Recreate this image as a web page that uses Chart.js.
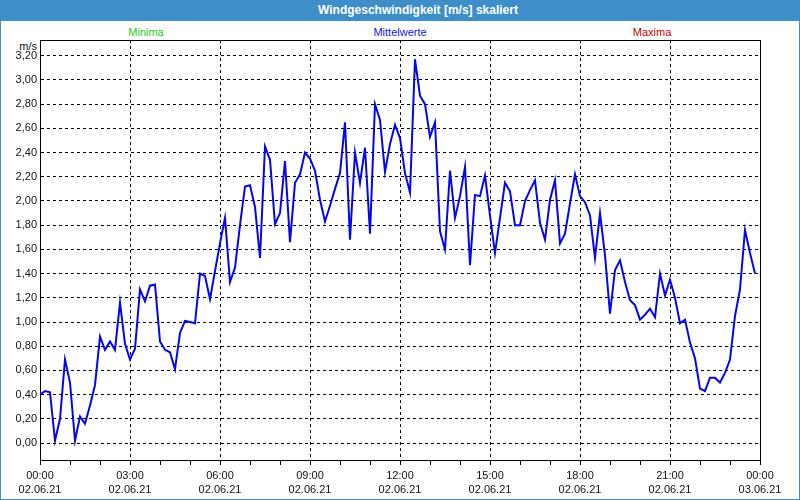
<!DOCTYPE html>
<html><head><meta charset="utf-8">
<script src="https://cdn.jsdelivr.net/npm/chart.js@4"></script>
<style>
html,body{margin:0;padding:0;background:#fff;}
#frame{position:relative;width:800px;height:500px;box-sizing:border-box;border:1px solid #3d8ec9;font-family:"Liberation Sans",Arial,sans-serif;overflow:hidden;background:#fff;}
#title{position:absolute;left:0;top:0;width:798px;height:20px;background:#3d8ec9;}
#title span{position:absolute;left:317px;top:2px;line-height:15px;color:#fff;font-weight:bold;font-size:12px;white-space:nowrap;}
.leg{position:absolute;top:25px;line-height:13px;font-size:11px;transform:translateX(-50%);white-space:nowrap;}
#unit{position:absolute;left:0;top:39px;width:36px;text-align:right;line-height:13px;font-size:11px;color:#111;}
#wrap{position:absolute;left:0;top:20px;width:798px;height:477px;}
</style></head>
<body>
<div id="frame">
  <div id="title"><span>Windgeschwindigkeit [m/s] skaliert</span></div>
  <div class="leg" style="left:145px;color:#22cc22;">Minima</div>
  <div class="leg" style="left:399px;color:#1515e0;">Mittelwerte</div>
  <div class="leg" style="left:651px;color:#c00000;">Maxima</div>
  <div id="unit">m/s</div>
  <div id="wrap"><canvas id="c" width="798" height="477"></canvas></div>
</div>
<script>
// 10-minute mean wind speed values, 02.06.21 00:00 .. 23:50
const stepHours = 1 / 6;
const values = [
  0.40, 0.43, 0.42, 0.02, 0.20, 0.69, 0.50, 0.02, 0.22, 0.16,
  0.31, 0.48, 0.88, 0.77, 0.84, 0.77, 1.16, 0.82, 0.69, 0.78,
  1.27, 1.17, 1.30, 1.31, 0.84, 0.77, 0.75, 0.61, 0.91, 1.01,
  1.00, 0.99, 1.40, 1.38, 1.19, 1.42, 1.65, 1.86, 1.33, 1.45,
  1.80, 2.12, 2.13, 1.95, 1.53, 2.45, 2.34, 1.81, 1.90, 2.33,
  1.66, 2.15, 2.22, 2.40, 2.35, 2.25, 2.01, 1.83, 1.96, 2.10,
  2.23, 2.65, 1.68, 2.40, 2.15, 2.44, 1.73, 2.80, 2.67, 2.24,
  2.47, 2.63, 2.52, 2.23, 2.07, 3.17, 2.87, 2.80, 2.53, 2.65,
  1.75, 1.60, 2.25, 1.86, 2.04, 2.28, 1.47, 2.05, 2.04, 2.21,
  1.88, 1.57, 1.86, 2.15, 2.08, 1.80, 1.80, 2.00, 2.09, 2.17,
  1.82, 1.68, 2.01, 2.17, 1.65, 1.73, 1.98, 2.22, 2.04, 1.99,
  1.88, 1.53, 1.90, 1.55, 1.07, 1.43, 1.51, 1.33, 1.18, 1.14,
  1.02, 1.06, 1.11, 1.04, 1.40, 1.22, 1.35, 1.20, 0.99, 1.02,
  0.83, 0.70, 0.45, 0.43, 0.54, 0.54, 0.50, 0.58, 0.69, 1.05,
  1.27, 1.76, 1.57, 1.40
];
const yTickValues = [0, 0.2, 0.4, 0.6, 0.8, 1.0, 1.2, 1.4, 1.6, 1.8, 2.0, 2.2, 2.4, 2.6, 2.8, 3.0, 3.2];
const hourTicks = [0,1,2,3,4,5,6,7,8,9,10,11,12,13,14,15,16,17,18,19,20,21,22,23,24];
const xLabelHours = [0, 3, 6, 9, 12, 15, 18, 21, 24];
const xLabelTimes = ['00:00','03:00','06:00','09:00','12:00','15:00','18:00','21:00','00:00'];
const xLabelDates = ['02.06.21','02.06.21','02.06.21','02.06.21','02.06.21','02.06.21','02.06.21','02.06.21','03.06.21'];

const points = values.map((v, i) => ({x: i * stepHours, y: v}));
const font = {family: '"Liberation Sans", Arial, sans-serif', size: 11};

const framePlugin = {
  id: 'frameBox',
  afterDraw(chart) {
    const a = chart.chartArea, c = chart.ctx;
    c.save();
    c.strokeStyle = '#000';
    c.lineWidth = 1;
    c.beginPath();
    c.moveTo(Math.round(a.left) + 0.5, Math.round(a.top) + 0.5);
    c.lineTo(Math.round(a.right) + 0.5, Math.round(a.top) + 0.5);
    c.lineTo(Math.round(a.right) + 0.5, Math.round(a.bottom) + 0.5);
    c.stroke();
    c.restore();
  }
};

new Chart(document.getElementById('c'), {
  type: 'line',
  data: {datasets: [{
    label: 'Mittelwerte', data: points,
    borderColor: '#0505ee', borderWidth: 2, pointRadius: 0, tension: 0, fill: false
  }]},
  options: {
    responsive: false, animation: false, devicePixelRatio: 1,
    layout: {padding: {left: 0, right: 39, top: 19, bottom: 0}},
    plugins: {legend: {display: false}, tooltip: {enabled: false}},
    scales: {
      x: {
        type: 'linear', min: 0, max: 24,
        afterBuildTicks: s => { s.ticks = hourTicks.map(v => ({value: v})); },
        afterFit: s => { s.height = 38; },
        grid: {
          color: c => (c.tick && xLabelHours.includes(c.tick.value)) ? '#000' : 'rgba(0,0,0,0)',
          lineWidth: 1, tickColor: '#000', tickLength: 5, tickBorderDash: [], tickWidth: 1
        },
        border: {display: true, color: '#000', width: 1, dash: [3, 3]},
        ticks: {
          autoSkip: false, maxRotation: 0, padding: 3, color: '#111',
          font: Object.assign({lineHeight: 1.36}, font),
          callback: v => { const k = xLabelHours.indexOf(v); return k >= 0 ? [xLabelTimes[k], xLabelDates[k]] : ''; }
        }
      },
      y: {
        min: -0.14, max: 3.33,
        afterBuildTicks: s => { s.ticks = yTickValues.map(v => ({value: v})); },
        afterFit: s => { s.width = 39; },
        grid: {color: '#000', lineWidth: 1, drawTicks: false},
        border: {display: true, color: '#000', width: 1, dash: [3, 3]},
        ticks: {padding: 3, color: '#111', font: font, callback: v => v.toFixed(2).replace('.', ',')}
      }
    }
  },
  plugins: [framePlugin]
});
</script>
</body></html>
